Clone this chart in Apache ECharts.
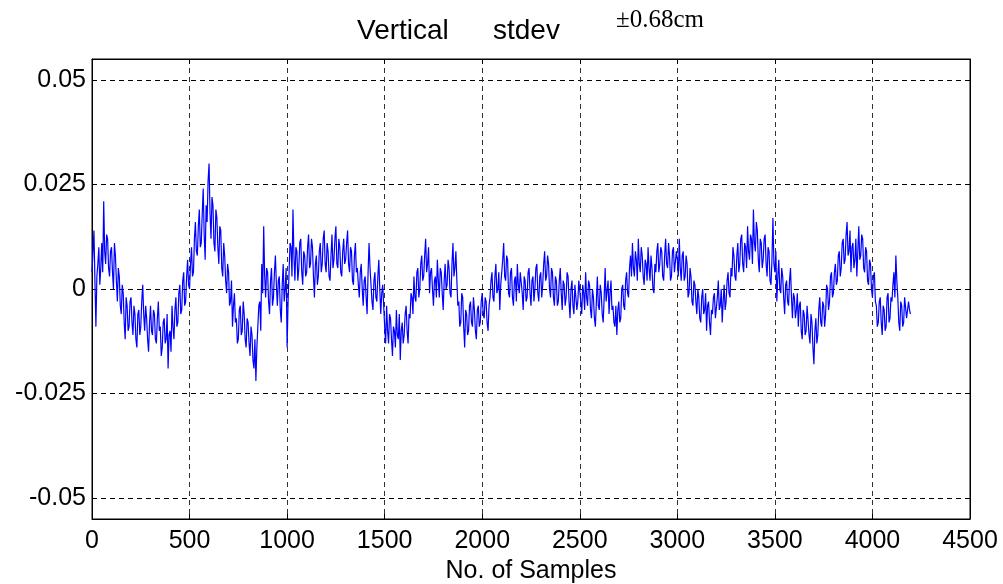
<!DOCTYPE html>
<html>
<head>
<meta charset="utf-8">
<script src="https://cdn.jsdelivr.net/npm/echarts@6/dist/echarts.min.js"></script>
<style>
html,body{margin:0;padding:0;background:#fff;overflow:hidden;}
#chart{width:1003px;height:584px;}
</style>
</head>
<body>
<div id="chart"></div>
<script>
// sample step between stored values
const sampleStep = 5;
// vertical deviation values, one row = 100 samples
const values = [
 0.004, 0.009, 0.014, 0.002,-0.009, 0.003, 0.006, 0.010, 0.001, 0.005, 0.011, 0.004, 0.021, 0.009, 0.006, 0.013, 0.012, 0.005, 0.003, 0.009,
 0.010, 0.004, 0.000, 0.011, 0.008, 0.002,-0.003, 0.005, 0.003,-0.004,-0.006, 0.001,-0.001,-0.008,-0.012,-0.002,-0.004,-0.010,-0.009,-0.003,
-0.002,-0.008,-0.011,-0.004,-0.006,-0.012,-0.014,-0.006,-0.005,-0.011,-0.009,-0.003, 0.001,-0.006,-0.010,-0.004,-0.007,-0.012,-0.015,-0.008,
-0.004,-0.010,-0.011,-0.005,-0.006,-0.012,-0.013,-0.007,-0.003,-0.010,-0.009,-0.016,-0.014,-0.008,-0.007,-0.013,-0.012,-0.006,-0.019,-0.011,
-0.010,-0.015,-0.004,-0.009,-0.012,-0.005,-0.002,-0.009,-0.008,-0.001, 0.001,-0.006,-0.005, 0.002, 0.004,-0.004,-0.003, 0.003, 0.007, 0.001,
 0.000, 0.006, 0.010, 0.003, 0.004, 0.012, 0.016, 0.009, 0.008, 0.015, 0.019, 0.010, 0.011, 0.018, 0.024, 0.013, 0.007, 0.020, 0.016, 0.026,
 0.030, 0.018, 0.012, 0.022, 0.020, 0.011, 0.009, 0.019, 0.017, 0.010, 0.006, 0.015, 0.014, 0.005, 0.003, 0.011, 0.008, 0.002,-0.001, 0.006,
 0.004,-0.004,-0.003, 0.002,-0.009,-0.004,-0.001,-0.008,-0.007,-0.013,-0.012,-0.005,-0.004,-0.011,-0.010,-0.003,-0.006,-0.012,-0.014,-0.007,
-0.008,-0.013,-0.016,-0.009,-0.011,-0.017,-0.019,-0.012,-0.022,-0.014,-0.009,-0.004,-0.003,-0.010, 0.006,-0.001, 0.015, 0.003,-0.002, 0.005,
 0.004,-0.003,-0.006, 0.002, 0.005,-0.004,-0.002, 0.004, 0.008, 0.001,-0.004, 0.002, 0.003,-0.005,-0.008, 0.001, 0.006,-0.003, 0.000, 0.005,
-0.014,-0.003, 0.004, 0.011, 0.010, 0.003, 0.019, 0.008, 0.002, 0.010, 0.009, 0.002, 0.005, 0.011, 0.012, 0.004, 0.001, 0.009, 0.008, 0.003,
 0.004, 0.010, 0.013, 0.005, 0.006, 0.012, 0.010, 0.003,-0.002, 0.006, 0.008, 0.001, 0.003, 0.009, 0.011, 0.004, 0.006, 0.012, 0.014, 0.006,
 0.004, 0.011, 0.009, 0.003, 0.002, 0.008, 0.013, 0.005, 0.007, 0.012, 0.015, 0.006, 0.005, 0.012, 0.010, 0.004, 0.003, 0.009, 0.012, 0.006,
 0.007, 0.011, 0.014, 0.006, 0.004, 0.010, 0.009, 0.002, 0.001, 0.008, 0.011, 0.004, 0.005, 0.001,-0.002, 0.004, 0.006, 0.000,-0.004, 0.002,
 0.003,-0.002,-0.006, 0.004, 0.011, 0.005, 0.001,-0.003,-0.005, 0.002, 0.004,-0.002,-0.003, 0.003, 0.007, 0.000,-0.006,-0.001, 0.001,-0.004,
-0.009,-0.013,-0.004,-0.010,-0.013,-0.006,-0.007,-0.012,-0.016,-0.009,-0.010,-0.014,-0.005,-0.011,-0.012,-0.006,-0.017,-0.010,-0.008,-0.013,
-0.011,-0.006,-0.004,-0.010,-0.013,-0.006,-0.007,-0.001,-0.002,-0.006, 0.003,-0.002,-0.003, 0.004, 0.005,-0.002, 0.000, 0.006, 0.008, 0.002,
 0.003, 0.008, 0.012, 0.004, 0.006, 0.010,-0.001, 0.004, 0.005, 0.000,-0.004, 0.002, 0.003,-0.002, 0.007, 0.002,-0.002, 0.005, 0.004,-0.001,
-0.005, 0.002, 0.006, 0.000, 0.001, 0.007, 0.005,-0.001,-0.002, 0.006, 0.011, 0.003, 0.005, 0.009, 0.002,-0.004,-0.003,-0.009,-0.008,-0.001,
-0.002,-0.009,-0.014,-0.005,-0.006,-0.011,-0.010,-0.004,-0.003,-0.008,-0.009,-0.002,-0.005,-0.010,-0.012,-0.005,-0.004,-0.009,-0.008,-0.003,
-0.001,-0.006,-0.007,-0.002,-0.003,-0.008,-0.010,-0.004,-0.002, 0.002, 0.004,-0.002,-0.003, 0.003, 0.006,-0.001, 0.000, 0.004,-0.005, 0.001,
 0.004, 0.007, 0.011, 0.003, 0.002, 0.008, 0.007,-0.001,-0.002, 0.004, 0.005,-0.002,-0.004, 0.002, 0.003,-0.003, 0.006, 0.001,-0.001, 0.004,
 0.004,-0.001,-0.005, 0.003, 0.002,-0.003,-0.002, 0.004, 0.005,-0.001,-0.004, 0.002, 0.003,-0.003, 0.000, 0.005, 0.006,-0.001,-0.003, 0.003,
 0.004,-0.002, 0.001, 0.006, 0.009, 0.002, 0.003, 0.008, 0.006, 0.000,-0.002, 0.005, 0.004,-0.002,-0.004, 0.003, 0.002,-0.004,-0.003, 0.002,
 0.005,-0.001,-0.005, 0.002, 0.001,-0.004,-0.002, 0.004, 0.003,-0.003,-0.007, 0.000, 0.002,-0.004,-0.006, 0.001, 0.001,-0.005,-0.003, 0.002,
 0.002,-0.003,-0.006, 0.001,-0.001,-0.005, 0.004,-0.002,-0.004, 0.002, 0.001,-0.005,-0.007, 0.000,-0.002,-0.007,-0.009,-0.003, 0.003,-0.004,
-0.005, 0.001,-0.001,-0.006,-0.008,-0.002, 0.005,-0.003,-0.003, 0.002,-0.006,-0.001, 0.002,-0.005,-0.004,-0.008,-0.009,-0.004,-0.011,-0.005,
-0.003,-0.008,-0.007, 0.000, 0.001,-0.004,-0.005, 0.002, 0.004,-0.001,-0.002, 0.005, 0.008, 0.003, 0.011, 0.005, 0.003, 0.009, 0.007, 0.002,
 0.012, 0.006, 0.004, 0.010, 0.008, 0.003, 0.001, 0.007, 0.006, 0.002, 0.010, 0.005, 0.002, 0.008, 0.005, 0.000,-0.001, 0.006, 0.004, 0.009,
 0.011, 0.004, 0.006, 0.010, 0.009, 0.003, 0.002, 0.008, 0.012, 0.006, 0.005, 0.011, 0.008, 0.002, 0.003, 0.009, 0.010, 0.004, 0.004, 0.009,
 0.007, 0.003, 0.012, 0.005, 0.002, 0.008, 0.009, 0.002, 0.003, 0.008, 0.006,-0.002,-0.001, 0.005, 0.003,-0.003,-0.004, 0.002, 0.001,-0.003,
-0.006, 0.000,-0.002,-0.007,-0.008,-0.002, 0.000,-0.006,-0.005,-0.001,-0.010,-0.004,-0.003,-0.008,-0.011,-0.005,-0.006,-0.002,-0.001,-0.007,
-0.007,-0.002, 0.002,-0.005,-0.004, 0.000,-0.008,-0.003, 0.001,-0.005,-0.003, 0.002, 0.004,-0.001,-0.002, 0.005, 0.003, 0.010, 0.008, 0.003,
 0.002, 0.008, 0.011, 0.004, 0.006, 0.012, 0.013, 0.006, 0.004, 0.011, 0.010, 0.005, 0.015, 0.009, 0.007, 0.013, 0.012, 0.006, 0.019, 0.011,
 0.009, 0.016, 0.014, 0.007, 0.004, 0.012, 0.011, 0.005, 0.007, 0.012, 0.013, 0.006, 0.003, 0.010, 0.009, 0.002, 0.001, 0.007, 0.017, 0.006,
 0.004, 0.009,-0.003, 0.003, 0.007, 0.000,-0.001, 0.005, 0.003,-0.002,-0.006, 0.001, 0.002,-0.003,-0.004, 0.002, 0.005,-0.002,-0.007,-0.001,
-0.002,-0.007,-0.005,-0.001,-0.009,-0.004,-0.003,-0.010,-0.012,-0.005,-0.006,-0.011,-0.010,-0.004,-0.004,-0.011,-0.013,-0.006,-0.008,-0.014,
-0.018,-0.010,-0.007,-0.013,-0.011,-0.005,-0.002,-0.008,-0.009,-0.003,-0.004,-0.009,-0.006, 0.001, 0.000,-0.005,-0.003, 0.003, 0.004,-0.002,
-0.001, 0.004, 0.006, 0.001, 0.002, 0.008, 0.009, 0.003, 0.005, 0.011, 0.012, 0.006, 0.007, 0.013, 0.016, 0.008, 0.009, 0.014, 0.004, 0.010,
 0.011, 0.005, 0.007, 0.012, 0.003, 0.009, 0.015, 0.007, 0.008, 0.013, 0.012, 0.005, 0.004, 0.010, 0.009, 0.002, 0.001, 0.007, 0.006, 0.000,
-0.002, 0.003, 0.004,-0.003,-0.004,-0.009,-0.008,-0.003,-0.002,-0.008,-0.011,-0.004,-0.005,-0.010,-0.009,-0.002,-0.001,-0.008,-0.007,-0.002,
-0.003, 0.001, 0.004,-0.002, 0.008, 0.002,-0.002,-0.008,-0.010,-0.003,-0.004,-0.009,-0.008,-0.002,-0.002,-0.007,-0.007,-0.003,-0.005,-0.006
];
const yTicks = [-0.05, -0.025, 0, 0.025, 0.05];
const yLabels = ['-0.05', '-0.025', '0', '0.025', '0.05'];
const titleLeft = 'Vertical';
const titleRight = 'stdev';
const titleSup = '\u00b10.68cm';
const xName = 'No. of Samples';

const seriesData = values.map((v, i) => [i * sampleStep, v]);
const font = '"Liberation Sans", Arial, sans-serif';

const chart = echarts.init(document.getElementById('chart'), null, { renderer: 'canvas' });
chart.setOption({
  animation: false,
  backgroundColor: '#fff',
  grid: { left: 92, right: 33, top: 59, bottom: 65, show: true, borderColor: '#000', borderWidth: 1,
    containLabel: false, outerBoundsMode: 'none' },
  graphic: [
    { type: 'text', left: 357, top: 17, style: { text: titleLeft, font: '28px ' + font, fill: '#000' } },
    { type: 'text', left: 493, top: 17, style: { text: titleRight, font: '28px ' + font, fill: '#000' } },
    { type: 'text', left: 616, top: 8, style: { text: titleSup, font: '25px "Liberation Serif", "Times New Roman", serif', fill: '#000' } }
  ],
  xAxis: [{
    type: 'value', min: 0, max: 4500, interval: 500,
    name: xName, nameLocation: 'middle', nameGap: 38,
    nameTextStyle: { fontFamily: font, fontSize: 25, color: '#000' },
    axisLine: { show: true, onZero: false, lineStyle: { color: '#000', width: 1 } },
    axisTick: { show: true, inside: true, length: 5, lineStyle: { color: '#000' } },
    axisLabel: { fontFamily: font, fontSize: 25, color: '#000', margin: 10,
      formatter: v => String(v) },
    splitLine: { show: true, lineStyle: { color: '#333', type: [5, 4], width: 1 } }
  }, {
    type: 'value', position: 'top', min: 0, max: 4500, interval: 500,
    axisLine: { show: true, onZero: false, lineStyle: { color: '#000' } },
    axisTick: { show: true, inside: true, length: 5, lineStyle: { color: '#000' } },
    axisLabel: { show: false }, splitLine: { show: false }
  }],
  yAxis: [{
    type: 'value', min: -0.055, max: 0.055,
    axisLine: { show: true, onZero: false, lineStyle: { color: '#000', width: 1 } },
    axisTick: { show: true, inside: true, length: 5, customValues: yTicks, lineStyle: { color: '#000' } },
    axisLabel: { fontFamily: font, fontSize: 25, color: '#000', margin: 6, customValues: yTicks,
      formatter: v => yLabels[yTicks.findIndex(t => Math.abs(t - v) < 1e-9)] },
    splitLine: { show: true, lineStyle: { color: '#000', type: [5, 4], width: 1 } }
  }, {
    type: 'value', position: 'right', min: -0.055, max: 0.055,
    axisLine: { show: true, onZero: false, lineStyle: { color: '#000' } },
    axisTick: { show: true, inside: true, length: 5, customValues: yTicks, lineStyle: { color: '#000' } },
    axisLabel: { show: false }, splitLine: { show: false }
  }],
  series: [{
    type: 'line', xAxisIndex: 0, yAxisIndex: 0,
    data: seriesData, showSymbol: false, symbol: 'none',
    lineStyle: { color: '#0000ff', width: 1.2 },
    z: 3
  }]
});
</script>
</body>
</html>
